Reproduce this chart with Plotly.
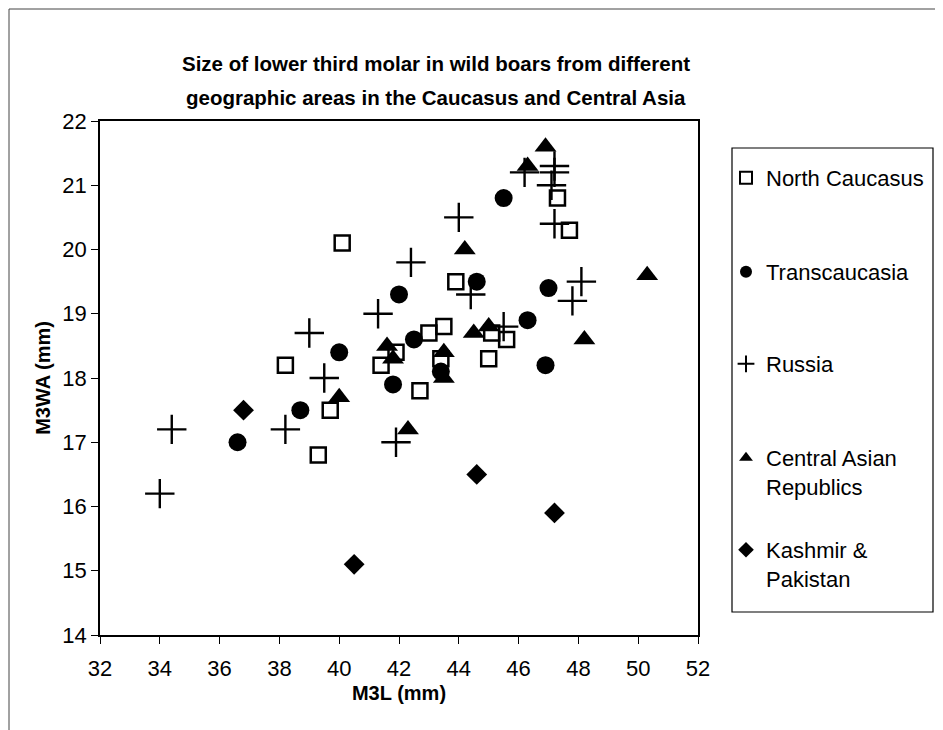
import plotly.graph_objects as go

# North Caucasus (open squares)
nc_x = [40.1, 38.2, 39.7, 39.3, 41.4, 41.9, 42.7, 43.0, 43.5, 43.4, 43.9, 45.0, 45.1, 45.6, 47.3, 47.7]
nc_y = [20.1, 18.2, 17.5, 16.8, 18.2, 18.4, 17.8, 18.7, 18.8, 18.3, 19.5, 18.3, 18.7, 18.6, 20.8, 20.3]

# Transcaucasia (filled circles)
tc_x = [36.6, 38.7, 40.0, 41.8, 42.0, 42.5, 43.4, 44.6, 45.5, 46.3, 47.0, 46.9]
tc_y = [17.0, 17.5, 18.4, 17.9, 19.3, 18.6, 18.1, 19.5, 20.8, 18.9, 19.4, 18.2]

# Russia (plus)
ru_x = [34.0, 34.4, 38.2, 39.0, 39.5, 41.3, 41.9, 42.4, 44.0, 44.4, 45.5, 46.2, 47.2, 47.2, 47.1, 47.2, 47.8, 48.1]
ru_y = [16.2, 17.2, 17.2, 18.7, 18.0, 19.0, 17.0, 19.8, 20.5, 19.3, 18.8, 21.2, 21.3, 21.2, 21.0, 20.4, 19.2, 19.5]

# Central Asian Republics (filled triangles)
ca_x = [40.0, 41.6, 41.8, 42.3, 43.5, 43.5, 44.2, 44.5, 45.0, 46.3, 46.9, 48.2, 50.3]
ca_y = [17.7, 18.5, 18.3, 17.2, 18.4, 18.0, 20.0, 18.7, 18.8, 21.3, 21.6, 18.6, 19.6]

# Kashmir & Pakistan (filled diamonds)
kp_x = [36.8, 40.5, 44.6, 47.2]
kp_y = [17.5, 15.1, 16.5, 15.9]

series_names = ["North Caucasus", "Transcaucasia", "Russia",
                "Central Asian<br>Republics", "Kashmir &<br>Pakistan"]

FONT = "Liberation Sans, Arial, Helvetica, sans-serif"
W, H = 943, 730
OFF = 8  # page offset of the figure (browser body margin)
# target plot area in page pixels: x 100..698, y 121..635
PL, PR, PT, PB = 100, 698, 121, 635
L = PL - OFF
T = PT - OFF
PW, PH = PR - PL, PB - PT
R = W - L - PW
B = H - T - PH


def px_x(p):
    """page pixel x -> paper coordinate"""
    return (p - PL) / PW


def px_y(p):
    """page pixel y -> paper coordinate"""
    return (PB - p) / PH


markers = [
    dict(symbol="square-open", size=15, color="black", line=dict(width=2.5, color="black")),
    dict(symbol="circle", size=18, color="black"),
    dict(symbol="cross-thin-open", size=21, color="black", line=dict(width=2.4, color="black")),
    dict(symbol="triangle-up", size=19, color="black"),
    dict(symbol="diamond", size=16, color="black"),
]
data = [(nc_x, nc_y), (tc_x, tc_y), (ru_x, ru_y), (ca_x, ca_y), (kp_x, kp_y)]
legend_ids = ["legend", "legend2", "legend3", "legend4", "legend5"]
legend_centers = [178, 272, 364, 458, 550]  # first text line centers (page px)

fig = go.Figure()
for name, (xs, ys), mk, lid in zip(series_names, data, markers, legend_ids):
    fig.add_trace(go.Scatter(x=xs, y=ys, mode="markers", name=name, marker=mk,
                             legend=lid))

legend_layout = {}
for lid, cy in zip(legend_ids, legend_centers):
    legend_layout[lid] = dict(
        x=px_x(726), xanchor="left",
        y=px_y(cy - 21), yanchor="top",
        bgcolor="rgba(0,0,0,0)", borderwidth=0,
        font=dict(family=FONT, size=22, color="black"),
        itemsizing="constant", valign="top",
    )

fig.update_layout(
    width=W, height=H,
    paper_bgcolor="white", plot_bgcolor="white",
    margin=dict(l=L, r=R, t=T, b=B),
    font=dict(family=FONT, size=22, color="black"),
    showlegend=True,
    **legend_layout,
)
fig.add_annotation(
    text="<b>Size of lower third molar in wild boars from different</b>",
    xref="paper", yref="paper", x=px_x(436), y=px_y(64),
    xanchor="center", yanchor="middle", showarrow=False,
    font=dict(family=FONT, size=20.5, color="black"),
)
fig.add_annotation(
    text="<b>geographic areas in the Caucasus and Central Asia</b>",
    xref="paper", yref="paper", x=px_x(436), y=px_y(98),
    xanchor="center", yanchor="middle", showarrow=False,
    font=dict(family=FONT, size=20.5, color="black"),
)
# legend frame
fig.add_shape(type="rect", xref="paper", yref="paper",
              x0=px_x(732), x1=px_x(933), y0=px_y(612), y1=px_y(148),
              line=dict(color="black", width=1.2), fillcolor="rgba(0,0,0,0)")
# outer chart frame (left and top edges visible in the reference)
fig.add_shape(type="line", xref="paper", yref="paper",
              x0=px_x(9), x1=px_x(9), y0=px_y(740), y1=px_y(9),
              line=dict(color="#444444", width=1))
fig.add_shape(type="line", xref="paper", yref="paper",
              x0=px_x(9), x1=px_x(950), y0=px_y(9), y1=px_y(9),
              line=dict(color="#444444", width=1))

fig.update_xaxes(
    range=[32, 52], dtick=2, tick0=32,
    showline=True, linecolor="black", linewidth=1.8, mirror=True,
    ticks="outside", ticklen=7, tickcolor="black",
    showgrid=False, zeroline=False,
    tickfont=dict(family=FONT, size=22),
    ticklabelstandoff=6,
    title=dict(text="<b>M3L (mm)</b>", font=dict(family=FONT, size=20), standoff=6),
)
fig.update_yaxes(
    range=[14, 22], dtick=1, tick0=14,
    showline=True, linecolor="black", linewidth=1.8, mirror=True,
    ticks="outside", ticklen=7, tickcolor="black",
    showgrid=False, zeroline=False,
    tickfont=dict(family=FONT, size=22),
    title=dict(text="<b>M3WA (mm)</b>", font=dict(family=FONT, size=20), standoff=6),
)

fig.write_html("out.html")
